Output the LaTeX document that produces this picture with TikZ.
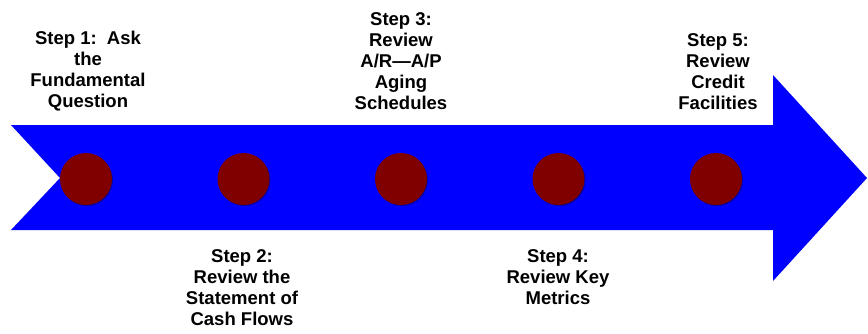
\documentclass[tikz,border=0pt]{standalone}
\usepackage{fontspec}
\setmainfont{Liberation Sans}
\usetikzlibrary{shadows}
\definecolor{arrowblue}{RGB}{0,0,255}
\definecolor{dotred}{RGB}{128,0,0}
\begin{document}
\begin{tikzpicture}[x=1pt,y=-1pt,
  dot/.style={circle,fill=dotred,minimum size=52pt,inner sep=0pt,
    drop shadow={shadow xshift=1pt,shadow yshift=-1.2pt,fill=blue!55!black,opacity=.7}},
  steptext/.style={align=center,inner sep=0pt,font=\bfseries\fontsize{18.5}{21}\selectfont}]
\useasboundingbox (0,0) rectangle (868,333);

\fill[arrowblue] (11,125) -- (773,125) -- (773,75) -- (867,178) -- (773,281) -- (773,230) -- (11,230) -- (60,178) -- cycle;

\node[dot] (c1) at (86,179) {};
\node[dot] (c2) at (243.5,179) {};
\node[dot] (c3) at (401,179) {};
\node[dot] (c4) at (558.5,179) {};
\node[dot] (c5) at (716,179) {};

\node[steptext,anchor=south] (s1) at (88,111) {Step 1:~~Ask\\the\\Fundamental\\Question};
\node[steptext,anchor=north] (s2) at (242,249) {Step 2:\\Review the\\Statement of\\Cash Flows};
\node[steptext,anchor=south] (s3) at (401,110) {Step 3:\\Review\\A/R—A/P\\Aging\\Schedules};
\node[steptext,anchor=north] (s4) at (558,249) {Step 4:\\Review Key\\Metrics};
\node[steptext,anchor=south] (s5) at (718,110) {Step 5:\\Review\\Credit\\Facilities};
\end{tikzpicture}
\end{document}
